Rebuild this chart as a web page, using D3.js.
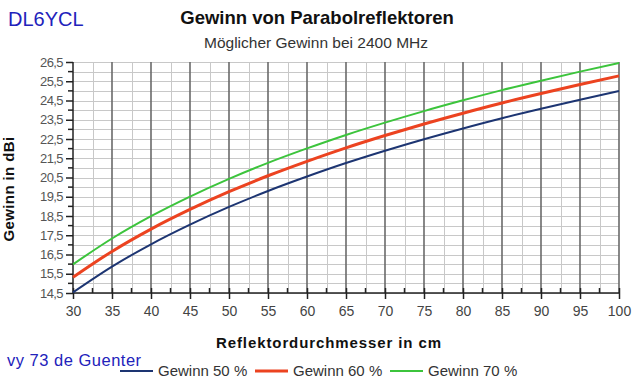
<!DOCTYPE html>
<html>
<head>
<meta charset="utf-8">
<script src="https://cdn.jsdelivr.net/npm/d3@7"></script>
<style>
body { margin: 0; background: #fff; }
text { font-family: "Liberation Sans", Arial, sans-serif; }
</style>
</head>
<body>
<script>
let width = 640, height = 382

// Reflektordurchmesser in cm
let durchmesser = [30, 35, 40, 45, 50, 55, 60, 65, 70, 75, 80, 85, 90, 95, 100]
// Gewinn in dBi
let gewinn50 = [14.53, 15.87, 17.03, 18.05, 18.97, 19.80, 20.55, 21.25, 21.89, 22.49, 23.05, 23.58, 24.07, 24.54, 24.99]
let gewinn60 = [15.32, 16.66, 17.82, 18.84, 19.76, 20.59, 21.34, 22.04, 22.68, 23.28, 23.84, 24.37, 24.86, 25.33, 25.78]
let gewinn70 = [15.99, 17.33, 18.49, 19.51, 20.43, 21.26, 22.01, 22.71, 23.35, 23.95, 24.51, 25.04, 25.53, 26.00, 26.45]
let yTicks = [14.5, 15.5, 16.5, 17.5, 18.5, 19.5, 20.5, 21.5, 22.5, 23.5, 24.5, 25.5, 26.5]
let serien = [
    {name: 'Gewinn 50 %', values: gewinn50, color: '#1d3572', w: 2},
    {name: 'Gewinn 60 %', values: gewinn60, color: '#ec4320', w: 3},
    {name: 'Gewinn 70 %', values: gewinn70, color: '#3cc43c', w: 2}
]

let pLeft = 73, pRight = 619, pTop = 62, pBottom = 293

let svg = d3.select('body').append('svg')
    .attr('width', width)
    .attr('height', height)

let x = d3.scaleLinear().domain([30, 100]).range([pLeft, pRight])
let y = d3.scaleLinear().domain([14.5, 26.5]).range([pBottom, pTop])

let komma = d => String(d).replace('.', ',')

// horizontale Gitterlinien alle 0,5
let hLines = d3.range(14.5, 26.51, 0.5)
svg.append('g').selectAll('line').data(hLines).enter().append('line')
    .attr('x1', pLeft).attr('x2', pRight)
    .attr('y1', d => Math.round(y(d)) + 0.5).attr('y2', d => Math.round(y(d)) + 0.5)
    .attr('stroke', '#c8c8c8').attr('stroke-width', 1)

// vertikale Nebenlinien
let minorX = d3.range(32.5, 100, 5)
svg.append('g').selectAll('line').data(minorX).enter().append('line')
    .attr('x1', d => Math.round(x(d)) + 0.5).attr('x2', d => Math.round(x(d)) + 0.5)
    .attr('y1', pTop).attr('y2', pBottom)
    .attr('stroke', '#c8c8c8').attr('stroke-width', 1)

// vertikale Hauptlinien
svg.append('g').selectAll('line').data(durchmesser.slice(1)).enter().append('line')
    .attr('x1', d => Math.round(x(d))).attr('x2', d => Math.round(x(d)))
    .attr('y1', pTop).attr('y2', pBottom)
    .attr('stroke', '#6a6a6a').attr('stroke-width', 1.6)

// Achsen
let xAxis = d3.axisBottom(x).tickValues(durchmesser).tickSize(6).tickPadding(4).tickFormat(d => d)
let gx = svg.append('g').attr('transform', `translate(0,${pBottom})`).call(xAxis)
gx.select('.domain').remove()
gx.append('line').attr('x1', pLeft).attr('x2', pRight).attr('stroke', '#222').attr('stroke-width', 1.5)
gx.selectAll('.tick line').attr('y1', -5).attr('stroke', '#222').attr('stroke-width', 1.5)
gx.selectAll('text').attr('font-size', 14).attr('fill', '#444')
    .attr('font-family', '"Liberation Sans", Arial, sans-serif').attr('dy', '0.95em')
gx.selectAll('.minor').data(minorX).enter().append('line')
    .attr('x1', d => x(d)).attr('x2', d => x(d))
    .attr('y1', -5).attr('y2', 0)
    .attr('stroke', '#222').attr('stroke-width', 1.5)

let yAxis = d3.axisLeft(y).tickValues(yTicks).tickSize(7).tickPadding(3).tickFormat(komma)
let gy = svg.append('g').attr('transform', `translate(${pLeft},0)`).call(yAxis)
gy.select('.domain').remove()
gy.append('line').attr('y1', pTop).attr('y2', pBottom).attr('stroke', '#222').attr('stroke-width', 1.5)
gy.selectAll('.tick line').attr('stroke', '#222').attr('stroke-width', 1.5)
gy.selectAll('text').attr('font-size', 13).attr('fill', '#555')
    .attr('font-family', '"Liberation Sans", Arial, sans-serif').attr('letter-spacing', -0.6)
gy.selectAll('.minor').data(d3.range(15, 26.5, 1)).enter().append('line')
    .attr('x1', -5).attr('x2', 0)
    .attr('y1', d => y(d)).attr('y2', d => y(d))
    .attr('stroke', '#222').attr('stroke-width', 1.5)

// Kurven
let line = d3.line()
    .x((d, i) => x(durchmesser[i]))
    .y(d => y(d))
    .curve(d3.curveMonotoneX)

svg.append('g').selectAll('path').data(serien).enter().append('path')
    .attr('d', d => line(d.values))
    .attr('fill', 'none')
    .attr('stroke', d => d.color)
    .attr('stroke-width', d => d.w)

// Texte
svg.append('text').attr('x', 8).attr('y', 26)
    .attr('font-size', 20).attr('fill', '#2222bb').text('DL6YCL')
svg.append('text').attr('x', 317).attr('y', 24).attr('text-anchor', 'middle')
    .attr('font-size', 18.5).attr('font-weight', 'bold').attr('fill', '#111')
    .text('Gewinn von Parabolreflektoren')
svg.append('text').attr('x', 316).attr('y', 48).attr('text-anchor', 'middle')
    .attr('font-size', 15.5).attr('fill', '#333')
    .text('Möglicher Gewinn bei 2400 MHz')
svg.append('text').attr('x', 329).attr('y', 348).attr('text-anchor', 'middle')
    .attr('font-size', 15).attr('font-weight', 'bold').attr('fill', '#111')
    .attr('letter-spacing', 0.9)
    .text('Reflektordurchmesser in cm')
svg.append('text').attr('transform', `translate(14,189) rotate(-90)`)
    .attr('text-anchor', 'middle')
    .attr('font-size', 15).attr('font-weight', 'bold').attr('fill', '#111')
    .attr('letter-spacing', 0.4)
    .text('Gewinn in dBi')
svg.append('text').attr('x', 7).attr('y', 366)
    .attr('font-size', 16.5).attr('fill', '#2222bb').attr('letter-spacing', 0.5)
    .text('vy 73 de Guenter')

// Legende
let legX = [120, 255, 390]
let leg = svg.append('g').selectAll('g').data(serien).enter().append('g')
    .attr('transform', (d, i) => `translate(${legX[i]},371)`)
leg.append('line').attr('x1', 0).attr('x2', 33)
    .attr('stroke', d => d.color).attr('stroke-width', d => d.w)
leg.append('text').attr('x', 38).attr('y', 5)
    .attr('font-size', 15).attr('fill', '#333')
    .text(d => d.name)
</script>
</body>
</html>
